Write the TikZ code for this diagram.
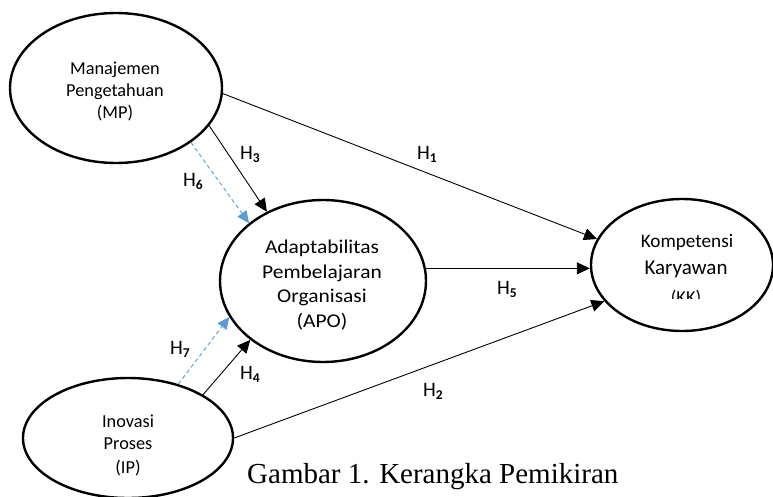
\documentclass[tikz,border=0pt]{standalone}
\usepackage{fontspec}
\setmainfont{Carlito}
\newfontfamily\capfont{Liberation Serif}
\usetikzlibrary{arrows.meta,shapes.geometric}
\definecolor{hblue}{HTML}{5B9BD5}
\newcommand{\hyp}[1]{H\raisebox{-3pt}{\fontsize{13.5}{13.5}\selectfont\bfseries #1}}
\newcommand{\wide}[1]{\scalebox{1.1}[1]{#1}}
\begin{document}
\begin{tikzpicture}[x=1pt,y=-1pt,
 latent/.style={ellipse,draw,line width=2.4pt,inner sep=0pt},
 lbl/.style={anchor=base,inner sep=0pt,font=\fontsize{18.3}{22}\selectfont},
 apolbl/.style={anchor=base,inner sep=0pt,font=\fontsize{19.5}{24}\selectfont},
 hlab/.style={anchor=base west,inner sep=0pt,font=\fontsize{20.5}{24}\selectfont},
 arr/.style={line width=0.9pt,-{Triangle[length=13pt,width=12pt]}},
 med/.style={line width=0.9pt,hblue,dash pattern=on 4pt off 3pt,-{Triangle[length=12pt,width=11pt]}}]
\useasboundingbox (0,0) rectangle (773,497);
% latent variables
\node[latent,minimum width=212pt,minimum height=150pt] (MP) at (116,88) {};
\node[latent,minimum width=206pt,minimum height=162pt] (APO) at (323,281) {};
\node[latent,minimum width=182pt,minimum height=132pt] (KK) at (682,265) {};
\node[latent,minimum width=210pt,minimum height=120pt] (IP) at (128,438) {};
% texts
\node[lbl] (mp1) at (115,75) {Manajemen};
\node[lbl] (mp2) at (115,97) {Pengetahuan};
\node[lbl] (mp3) at (115,119) {(MP)};
\node[apolbl] (apo1) at (322,253) {\wide{Adaptabilitas}};
\node[apolbl] (apo2) at (322,278) {\wide{Pembelajaran}};
\node[apolbl] (apo3) at (322,302) {\wide{Organisasi}};
\node[apolbl] (apo4) at (322,327) {\wide{(APO)}};
\node[lbl,font=\fontsize{19.2}{23}\selectfont] (kk1) at (687,247) {Kompetensi};
\node[lbl,font=\fontsize{21}{25}\selectfont] (kk2) at (686,274) {Karyawan};
\begin{scope}
\clip (600,200) rectangle (770,298);
\node[lbl] (kk3) at (686,303) {(KK)};
\end{scope}
\node[lbl] (ip1) at (128,427) {Inovasi};
\node[lbl] (ip2) at (128,449) {Proses};
\node[lbl] (ip3) at (128,473) {(IP)};
% connectors
\draw[arr] (MP.-3) -- (KK.163);
\draw[arr] (APO.7) -- (APO.7 -| KK.west);
\draw[arr] (IP.0) -- (KK.205);
\draw[arr] (MP.-22) -- (APO.129);
\draw[med] (MP.-36) -- (APO.142);
\draw[arr] (IP.30) -- (APO.219);
\draw[med] (IP.47) -- (APO.201);
% hypothesis labels
\node[hlab] (h1) at (417,160) {\hyp{1}};
\node[hlab] (h2) at (423,396) {\hyp{2}};
\node[hlab] (h3) at (240,160) {\hyp{3}};
\node[hlab] (h4) at (240,379) {\hyp{4}};
\node[hlab] (h5) at (497,294) {\hyp{5}};
\node[hlab] (h6) at (183,186) {\hyp{6}};
\node[hlab] (h7) at (170,354) {\hyp{7}};
% caption
\node[anchor=base west,inner sep=0pt,font=\capfont\fontsize{29}{33}\selectfont] (cap) at (247,483) {Gambar 1. Kerangka Pemikiran};
\end{tikzpicture}
\end{document}
